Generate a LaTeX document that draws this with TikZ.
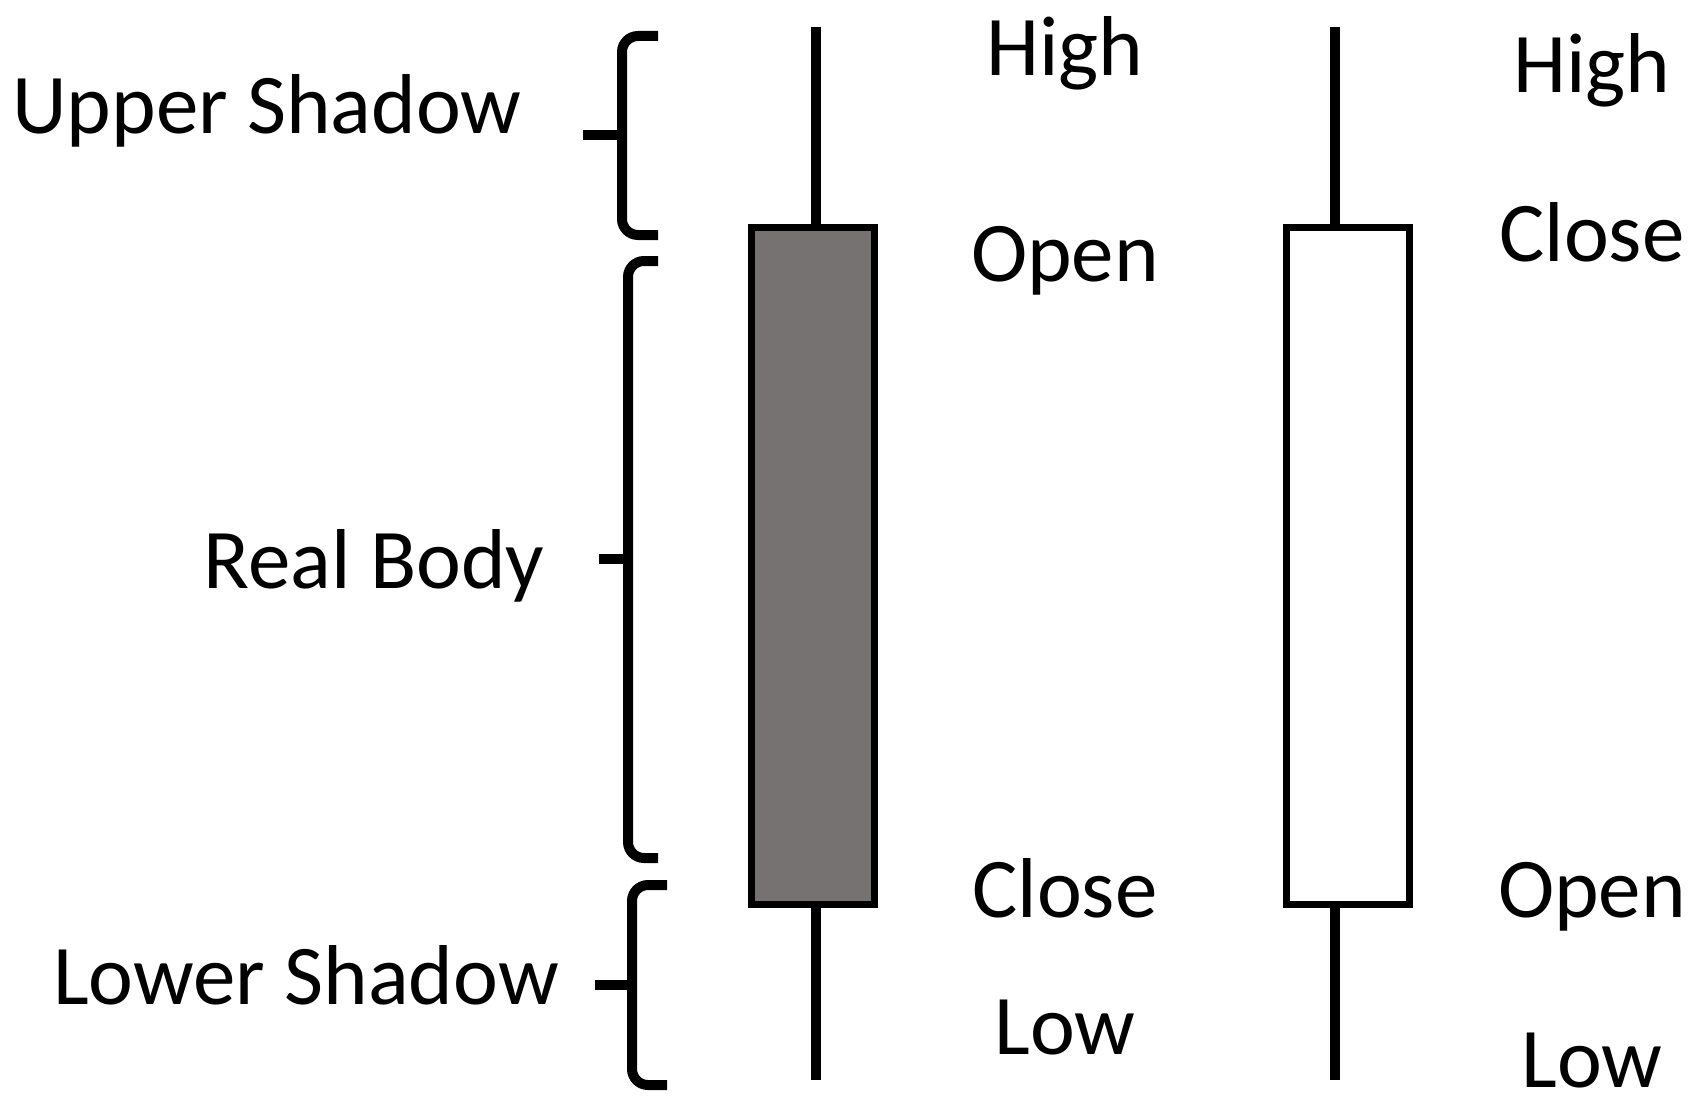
\documentclass[tikz,border=0pt]{standalone}
\usepackage{fontspec}
\setmainfont{Carlito}
\definecolor{bodygray}{RGB}{118,114,113}
\tikzset{
  lbl/.style={anchor=base, inner sep=0pt, font=\fontsize{85}{92}\selectfont},
  wick/.style={line width=10pt, line cap=butt},
  candle/.style={draw=black, line width=7pt, minimum width=123pt, minimum height=677pt, inner sep=0pt},
  brace/.style={line width=10pt, rounded corners=16pt},
  stub/.style={line width=10pt}
}
\begin{document}
\begin{tikzpicture}[x=1pt,y=-1pt]
\useasboundingbox (0,0) rectangle (1707,1113);
% candles
\node[candle, fill=bodygray] (b1) at (813,566) {};
\node[candle, fill=white] (b2) at (1347.5,566) {};
\coordinate (h1) at (816,27);
\coordinate (l1) at (816,1080);
\coordinate (h2) at (1335,27);
\coordinate (l2) at (1335,1080);
\draw[wick] (h1) -- (h1 |- b1.north);
\draw[wick] (l1) -- (l1 |- b1.south);
\draw[wick] (h2) -- (h2 |- b2.north);
\draw[wick] (l2) -- (l2 |- b2.south);
% braces
\coordinate (ut) at (658,36);
\coordinate (ub) at (658,235);
\coordinate (utip) at (583,135);
\draw[brace] (ut) -- (622,36) -- (622,235) -- (ub);
\draw[stub] (utip) -- (622,135);
\coordinate (rt) at (658,261);
\coordinate (rb) at (658,858);
\coordinate (rtip) at (599,559);
\draw[brace] (rt) -- (628,261) -- (628,858) -- (rb);
\draw[stub] (rtip) -- (628,559);
\coordinate (lt) at (667,885);
\coordinate (lb) at (667,1085);
\coordinate (ltip) at (595,985);
\draw[brace] (lt) -- (632,885) -- (632,1085) -- (lb);
\draw[stub] (ltip) -- (632,985);
% labels
\node[lbl] (us) at (267,133) {Upper Shadow};
\node[lbl] (rbd) at (374,588) {Real Body};
\node[lbl] (ls) at (306,1004) {Lower Shadow};
\node[lbl] (hi1) at (1065,76) {High};
\node[lbl] (op1) at (1065,281) {Open};
\node[lbl] (cl1) at (1065,917) {Close};
\node[lbl] (lo1) at (1065,1054) {Low};
\node[lbl] (hi2) at (1592,93) {High};
\node[lbl] (cl2) at (1592,261) {Close};
\node[lbl] (op2) at (1592,917) {Open};
\node[lbl] (lo2) at (1592,1087) {Low};
\end{tikzpicture}
\end{document}
